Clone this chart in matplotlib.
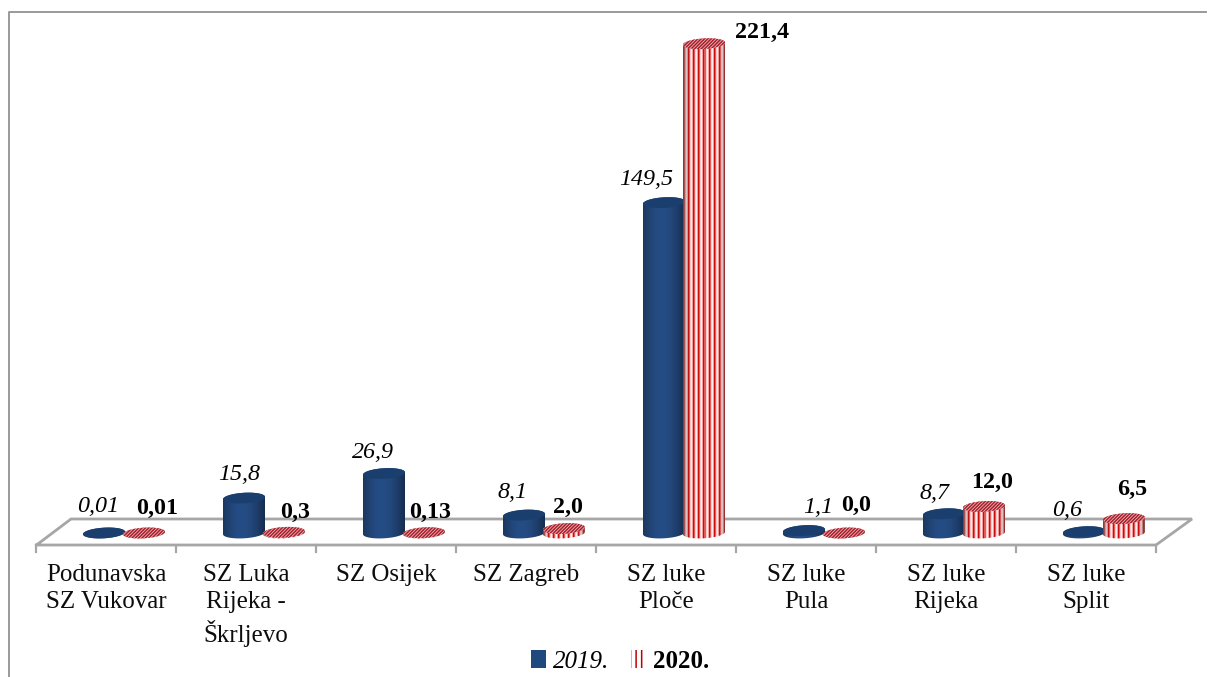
import numpy as np
import matplotlib
matplotlib.use("Agg")
import matplotlib.pyplot as plt
from matplotlib.patches import PathPatch, Patch
from matplotlib.path import Path

plt.rcParams['font.family'] = ['Liberation Serif', 'DejaVu Serif']
plt.rcParams['hatch.linewidth'] = 1.1

# data
categories = ["Podunavska\nSZ Vukovar", "SZ Luka\nRijeka -\nŠkrljevo", "SZ Osijek", "SZ Zagreb",
              "SZ luke\nPloče", "SZ luke\nPula", "SZ luke\nRijeka", "SZ luke\nSplit"]
values_2019 = [0.01, 15.8, 26.9, 8.1, 149.5, 1.1, 8.7, 0.6]
values_2020 = [0.01, 0.3, 0.13, 2.0, 221.4, 0.0, 12.0, 6.5]
labels_2019 = ["0,01", "15,8", "26,9", "8,1", "149,5", "1,1", "8,7", "0,6"]
labels_2020 = ["0,01", "0,3", "0,13", "2,0", "221,4", "0,0", "12,0", "6,5"]

# label offsets from top of the bar, in pixels
offs_2019 = [(-6, 26), (-5, 24), (-11, 21), (-11, 23), (-18, 23), (14, 23), (-10, 20), (-17, 21)]
offs_2020 = [(13, 25), (11, 20), (6, 20), (4, 21), (58, 11), (12, 28), (8, 24), (8, 29)]

W, H = 1208, 677
PX_X = 140.0    # px for one category
PX_Y = 2.21     # px for one value unit
X0 = 106        # px of first category
Y0 = 533        # px of value 0

fig = plt.figure(figsize=(W / 100, H / 100), dpi=100)
ax = fig.add_axes([0, 0, 1, 1])
xlim = (-X0 / PX_X, (W - X0) / PX_X)
ylim = ((Y0 - H) / PX_Y, Y0 / PX_Y)
ax.axis('off')


def dx(x):
    return (x - X0) / PX_X


def dy(y):
    return (Y0 - y) / PX_Y


GRAY = '#a6a6a6'

# outer frame
ax.plot([dx(9), dx(9), dx(1206)], [dy(677), dy(12), dy(12)], color='#9a9a9a', lw=1.4, zorder=1)

# floor
floor_x = [36.5, 71, 1192, 1156, 36.5]
floor_y = [545, 519, 519, 545, 545]
ax.plot([dx(v) for v in floor_x], [dy(v) for v in floor_y], color=GRAY, lw=2, zorder=1, solid_joinstyle='miter')
for i in range(len(categories) + 1):
    tx = i - 0.5
    ax.plot([tx, tx], [dy(545), dy(552)], color=GRAY, lw=1.6, zorder=1)

half_w = 21 / PX_X
half_h = 5.3 / PX_Y
tilt = 1.2 / PX_Y
t = np.linspace(0, 2 * np.pi, 121)


def ell(xc, yc, tt):
    return xc + half_w * np.cos(tt), yc + half_h * np.sin(tt) + tilt * np.cos(tt)


def blue_image():
    u = np.linspace(-1, 1, 64)
    shade = 1 - 0.35 * np.abs(u + 0.1) ** 1.8
    base = np.array([0x25, 0x4d, 0x85]) / 255
    return np.clip(shade[None, :, None] * base, 0, 1)


def red_image():
    # stripes, the rim of the cylinder goes to a grey brown
    pat = np.array([[0.80, 0.05, 0.05], [0.90, 0.35, 0.35], [0.99, 0.80, 0.80], [1, 0.93, 0.93], [0.96, 0.62, 0.62]])
    n = 42
    img = np.array([pat[k % len(pat)] for k in range(n)])
    u = np.abs(np.linspace(-1, 1, n))
    rim = (u ** 7)[:, None]
    rim_col = np.array([0.45, 0.30, 0.30])
    return np.clip(img * (1 - 0.8 * rim) + rim_col * 0.8 * rim, 0, 1)[None, :, :]


def cylinder(xc, val, kind, z):
    top = val
    bx, by = ell(xc, 0, np.linspace(np.pi, 2 * np.pi, 60))
    tx_, ty_ = ell(xc, top, np.linspace(0, np.pi, 60))
    side = Path(np.column_stack([np.r_[bx, tx_, bx[0]], np.r_[by, ty_, by[0]]]))
    patch = PathPatch(side, fc='none', ec='none', zorder=z)
    ax.add_patch(patch)
    img = blue_image() if kind == 'blue' else red_image()
    im = ax.imshow(img, extent=(xc - half_w, xc + half_w, -half_h - tilt, top + half_h + tilt),
                   aspect='auto', interpolation='nearest' if kind == 'red' else 'bilinear', zorder=z)
    im.set_clip_path(patch)
    ex, ey = ell(xc, top, t)
    if kind == 'blue':
        ax.fill(ex, ey, fc='#1a3f6f', ec='none', zorder=z + 0.1)
    else:
        ax.fill(ex, ey, fc='#ecb8b8', ec='#a81f2c', hatch='//////////', lw=0, zorder=z + 0.1)


x_2019 = np.arange(len(categories)) + dx(104) + 0.0
x_2020 = np.arange(len(categories)) + dx(144) + 0.0
z = 2
for i in range(len(categories)):
    cylinder(x_2019[i], values_2019[i], 'blue', z)
    cylinder(x_2020[i], values_2020[i], 'red', z + 1)
    z += 2

for i in range(len(categories)):
    ax.annotate(labels_2019[i], (x_2019[i], values_2019[i]), xytext=offs_2019[i], textcoords='offset pixels',
                ha='center', va='center', fontsize=17.3, style='italic', color='black', zorder=40)
    ax.annotate(labels_2020[i], (x_2020[i], values_2020[i]), xytext=offs_2020[i], textcoords='offset pixels',
                ha='center', va='center', fontsize=17.3, weight='bold', color='black', zorder=40)
    ax.text(i, dy(564), categories[i], ha='center', va='top', fontsize=18, color='#0d0d0d',
            linespacing=1.32, zorder=40)

handles = [Patch(fc='#1f497d', ec='none'),
           Patch(fc='white', ec='#c00000', hatch='|||', lw=0)]
leg = ax.legend(handles, ["2019.", "2020."], ncol=2, frameon=False, fontsize=18,
                loc='center', bbox_to_anchor=(620 / W, 1 - 661 / H), bbox_transform=fig.transFigure,
                handlelength=0.58, handleheight=0.75, handletextpad=0.3, columnspacing=0.85)
leg.get_texts()[0].set_fontstyle('italic')
leg.get_texts()[1].set_fontweight('bold')

ax.set_xlim(*xlim)
ax.set_ylim(*ylim)
fig.savefig("out.png", dpi=100)
